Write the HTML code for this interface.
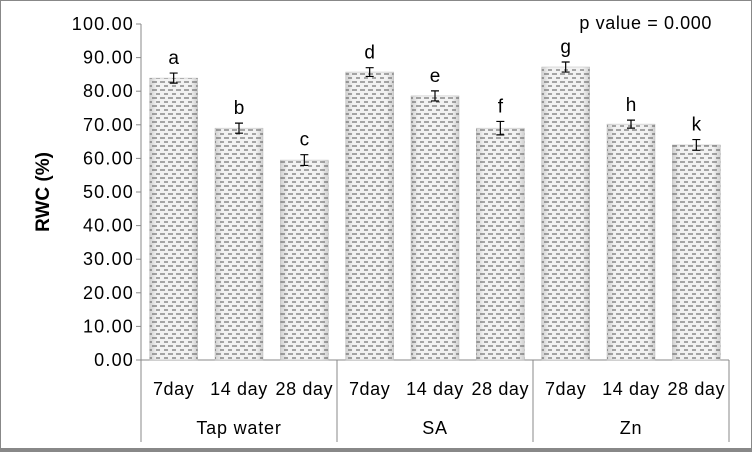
<!DOCTYPE html>
<html><head><meta charset="utf-8"><style>
body{margin:0;background:#fff}
svg{display:block;font-family:"Liberation Sans",sans-serif}
</style></head><body>
<svg width="752" height="452" id="c">
<defs>
<linearGradient id="g" x1="0" x2="1"><stop offset="0" stop-color="#d0d0d0"/><stop offset="0.15" stop-color="#f2f2f2"/><stop offset="0.85" stop-color="#f2f2f2"/><stop offset="1" stop-color="#d0d0d0"/></linearGradient>
<pattern id="p" width="8" height="8" patternUnits="userSpaceOnUse"><line x1="0" y1="2" x2="5" y2="2" stroke="#555" stroke-width="1"/><line x1="4" y1="6" x2="9" y2="6" stroke="#555" stroke-width="1"/></pattern>
</defs>
<rect x="0.5" y="0.5" width="751" height="450" fill="#fff" stroke="#888"/>
<rect x="0" y="448" width="752" height="4" fill="#888"/>
<text x="712" y="29" font-size="18" letter-spacing="0.6" text-anchor="end">p value = 0.000</text>
<text transform="translate(49,192) rotate(-90)" font-size="19" font-weight="bold" text-anchor="middle">RWC (%)</text>
</svg>
<script>
const groups=["Tap water","SA","Zn"];
const days=["7day","14 day","28 day"];
const values=[83.9,69,59.5,85.7,78.6,69,87.2,70.2,64];
const errors=[1.5,1.5,1.6,1.3,1.5,2,1.5,1.2,1.6];
const letters=["a","b","c","d","e","f","g","h","k"];
const yTicks=[0,10,20,30,40,50,60,70,80,90,100];
const svg=document.getElementById('c');const NS="http://www.w3.org/2000/svg";
const x0=141,x1=729,y0=360,y1=24;
const y=v=>y0-(v/100)*(y0-y1);
const cw=(x1-x0)/values.length;
function mk(t,a,txt){const e=document.createElementNS(NS,t);for(const k in a)e.setAttribute(k,a[k]);if(txt!=null)e.textContent=txt;svg.appendChild(e);return e;}
let ax=mk('line',{x1:x0,y1:y1,x2:x0,y2:y0,stroke:'#888'});


yTicks.forEach(t=>{
 let l=mk('line',{x1:x0-5,y1:y(t),x2:x0,y2:y(t),stroke:'#888'});
 
 
 let tx=mk('text',{x:x0-7,y:y(t)+6,'font-size':18,'letter-spacing':1.2,'text-anchor':'end'},t.toFixed(2));
 
 
});
let xa=mk('line',{x1:x0,y1:y0,x2:x1,y2:y0,stroke:'#888'});


for(let g=0;g<=groups.length;g++){
 let l=mk('line',{x1:x0+g*3*cw,y1:y0,x2:x0+g*3*cw,y2:442,stroke:'#888'});
 
 
}
groups.forEach((gn,g)=>{
 let t=mk('text',{x:x0+(g*3+1.5)*cw,y:434,'font-size':18,'letter-spacing':0.8,'text-anchor':'middle'},gn);
 
 
});
values.forEach((v,i)=>{
 const cx=x0+(i+0.5)*cw,bw=48;
 const r=mk('rect',{x:cx-bw/2,y:y(v),width:bw,height:y0-y(v),fill:'url(#g)',stroke:'#bbb','stroke-width':0.5});
 
 
 const r2=mk('rect',{x:cx-bw/2,y:y(v),width:bw,height:y0-y(v),fill:'url(#p)'});
 
 
 const e=errors[i];
 const eb=mk('path',{d:`M${cx},${y(v+e)}V${y(v-e)}M${cx-4},${y(v+e)}H${cx+4}M${cx-4},${y(v-e)}H${cx+4}`,stroke:'#000','stroke-width':1.2,fill:'none'});
 
 
 const lt=mk('text',{x:cx,y:y(v+e)-9,'font-size':19,'text-anchor':'middle'},letters[i]);
 
 
 const dl=mk('text',{x:cx,y:395,'font-size':18,'letter-spacing':0.6,'text-anchor':'middle'},days[i%3]);
 
 
});
</script>
</body></html>
